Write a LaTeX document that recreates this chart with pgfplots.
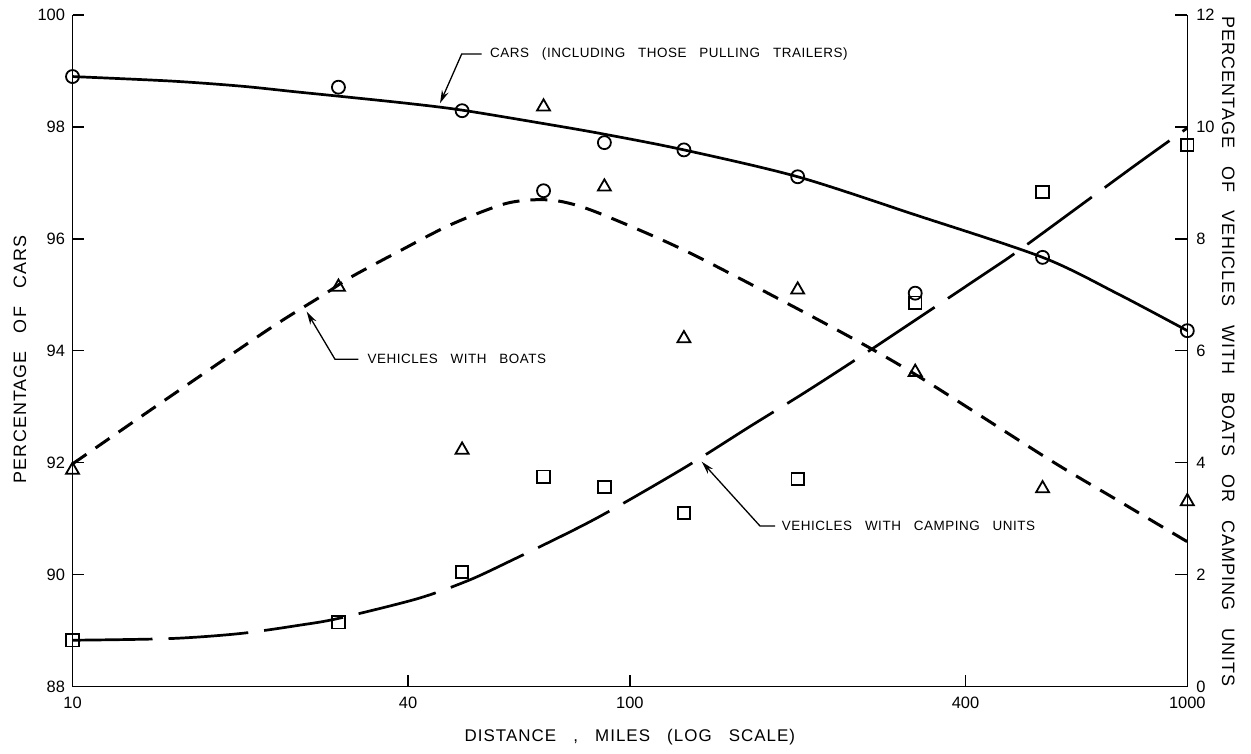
\documentclass[border=0pt]{standalone}
\usepackage{fontspec}
\setmainfont{Liberation Sans}
\newfontfamily\lbl[LetterSpace=4,WordSpace=3]{Liberation Sans}
\newfontfamily\ttl[LetterSpace=6,WordSpace=3]{Liberation Sans}
\usepackage{pgfplots}
\pgfplotsset{compat=1.18}
\usetikzlibrary{arrows.meta}

% cars (left axis, %)
\pgfplotstableread{
x y
10 98.90
15 98.82
20 98.73
25 98.63
30 98.55
40 98.42
50 98.30
70 98.06
90 97.87
125 97.59
200 97.11
325 96.43
550 95.67
750 95.02
1000 94.36
}\carcurve
\pgfplotstableread{
x y
10 98.90
30 98.71
50 98.29
70 96.86
90 97.72
125 97.59
200 97.11
325 95.03
550 95.67
1000 94.36
}\carpts
% boats (right axis, %)
\pgfplotstableread{
x y
10 3.98
15 5.19
22.6 6.40
28.2 7.00
31.5 7.31
38.4 7.77
47.6 8.25
59.3 8.62
68 8.70
76 8.66
88 8.46
125 7.80
200 6.75
273 6.02
345 5.42
567 4.05
747 3.34
1000 2.59
}\boatcurve
\pgfplotstableread{
x y
10 3.87
30 7.14
50 4.23
70 10.36
90 8.93
125 6.22
200 7.09
325 5.62
550 3.54
1000 3.31
}\boatpts
% camping units (right axis, %)
\pgfplotstableread{
x y
10 0.83
15 0.86
20 0.95
25.6 1.10
30 1.22
41.5 1.57
50.8 1.88
59.7 2.20
86 2.98
124.7 3.90
164.3 4.65
207.8 5.28
273.4 6.05
430.5 7.36
504.6 7.83
800 9.29
1000 9.98
}\campcurve
\pgfplotstableread{
x y
10 0.83
30 1.15
50 2.05
70 3.75
90 3.57
125 3.10
200 3.71
325 6.86
550 8.84
1000 9.68
}\camppts

\pgfplotsset{
  myaxisstyle/.style={
    scale only axis, width=1114.8bp, height=671.7bp,
    xminorticks=false, yminorticks=false,
    tick align=inside, major tick length=12bp,
    tick style={line width=1.3bp, black},
    axis line style={-, line width=1.5bp},
    ticklabel style={font=\fontsize{16.5}{16.5}\selectfont},
    /pgf/number format/assume math mode=true,
    clip=false,
  },
  mymk/.style={only marks, mark options={solid, line width=1.8bp, fill=white}},
}

\begin{document}
\begin{tikzpicture}[x=1bp,y=1bp]
\useasboundingbox (-72.5,-67.3) rectangle (1178.5,686.7);
\begin{axis}[
  at={(0,0)}, anchor=south west,
  xmode=log, xmin=10, xmax=1000,
  myaxisstyle,
  ymin=88, ymax=100,
  axis x line*=bottom, axis y line*=left,
  xtick={10,40,100,400,1000}, xticklabels={10,40,100,400,1000},
  ytick={88,90,92,94,96,98,100},
  xticklabel style={yshift=-7bp},
  yticklabel style={xshift=-4bp},
]
\addplot[smooth, line width=2.7bp, black] table[x=x,y=y] {\carcurve};
\addplot[mymk, mark=o, mark size=6.5bp] table[x=x,y=y] {\carpts};
\end{axis}
\begin{axis}[
  at={(0,0)}, anchor=south west,
  xmode=log, xmin=10, xmax=1000,
  myaxisstyle,
  ymin=0, ymax=12,
  axis x line=none, axis y line*=right,
  ytick={0,2,4,6,8,10,12},
  yticklabel style={xshift=5.5bp},
]
\addplot[smooth, line width=3bp, black, dash pattern=on 17bp off 11bp] table[x=x,y=y] {\boatcurve};
\addplot[smooth, line width=2.7bp, black, dash pattern=on 80bp off 16bp] table[x=x,y=y] {\campcurve};
\addplot[mymk, mark=triangle, mark size=7.5bp] table[x=x,y=y] {\boatpts};
\addplot[mymk, mark=square, mark size=6.2bp] table[x=x,y=y] {\camppts};
\end{axis}

% annotations
\draw[line width=1.3bp, -{Stealth[length=13bp,width=7bp]}] (409.2,632.7) -- (389.2,632.7) -- (367.5,583.4);
\node[anchor=west, inner sep=0pt, font=\lbl\fontsize{13.5}{13.5}\selectfont] at (417.5,632.2) {CARS (INCLUDING THOSE PULLING TRAILERS)};

\draw[line width=1.3bp, -{Stealth[length=13bp,width=7bp]}] (285.8,327.4) -- (262.5,327.4) -- (234.2,375);
\node[anchor=west, inner sep=0pt, font=\lbl\fontsize{13.5}{13.5}\selectfont] at (294.8,327.4) {VEHICLES WITH BOATS};

\draw[line width=1.3bp, -{Stealth[length=13bp,width=7bp]}] (702.5,160.7) -- (687.5,160.7) -- (629.2,225);
\node[anchor=west, inner sep=0pt, font=\lbl\fontsize{13.5}{13.5}\selectfont] at (709.2,160.7) {VEHICLES WITH CAMPING UNITS};

% axis titles
\node[anchor=center, font=\ttl\fontsize{17}{17}\selectfont] at (557.4,-50.3) {DISTANCE , MILES (LOG SCALE)};
\node[rotate=90, anchor=west, inner sep=0pt, font=\ttl\fontsize{18}{18}\selectfont] at (-52.5,203.4) {PERCENTAGE OF CARS};
\node[rotate=-90, anchor=east, inner sep=0pt, font=\ttl\fontsize{18}{18}\selectfont] at (1155.8,-0.3) {PERCENTAGE OF VEHICLES WITH BOATS OR CAMPING UNITS};
\end{tikzpicture}
\end{document}
